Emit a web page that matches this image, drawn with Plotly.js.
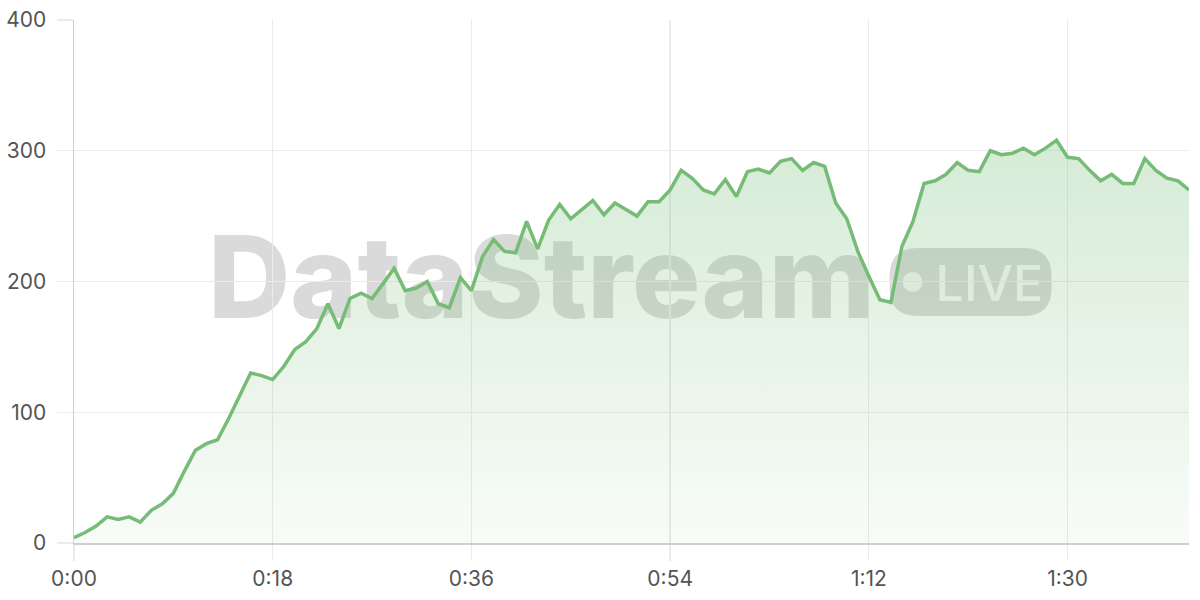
<!DOCTYPE html>
<html>
<head>
<meta charset="utf-8">
<script src="https://cdn.plot.ly/plotly-3.0.1.min.js"></script>
<style>html,body{margin:0;padding:0;background:#fff;}#chart{width:1200px;height:600px;}</style>
</head>
<body>
<div id="chart"></div>
<script>
const seconds = [0,1,2,3,4,5,6,7,8,9,10,11,12,13,14,15,16,17,18,19,20,21,22,23,24,25,26,27,28,29,30,31,32,33,34,35,36,37,38,39,40,41,42,43,44,45,46,47,48,49,50,51,52,53,54,55,56,57,58,59,60,61,62,63,64,65,66,67,68,69,70,71,72,73,74,75,76,77,78,79,80,81,82,83,84,85,86,87,88,89,90,91,92,93,94,95,96,97,98,99,100,101];
const values = [4,8,13,20,18,20,16,25,30,38,55,71,76,79,95,113,130,128,125,135,148,154,164,183,164,187,191,187,199,210,193,195,200,183,180,203,193,219,232,223,222,246,225,247,259,248,255,262,251,260,255,250,261,261,270,285,279,270,267,278,265,284,286,283,292,294,285,291,288,260,248,223,204,186,184,227,246,275,277,282,291,285,284,300,297,298,302,297,302,308,295,294,285,277,282,275,275,294,285,279,277,270];
const xTickVals = [0,18,36,54,72,90];
const xTickText = ["0:00","0:18","0:36","0:54","1:12","1:30"];
const yTickVals = [0,100,200,300,400];
const watermarkText = "DataStream";
const badgeText = "LIVE";

const L = 74, R = 10.5, T = 20, B = 57, W = 1200, H = 600;
const PW = W - L - R, PH = H - T - B;
function px(x){ return (x - L) / PW; }
function py(y){ return (H - B - y) / PH; }
function P(x, y){ return px(x) + ',' + py(y); }
function roundRect(x0, y0, x1, y1, r){
  return 'M' + P(x0+r,y0) + ' L' + P(x1-r,y0) + ' Q' + P(x1,y0) + ' ' + P(x1,y0+r) +
         ' L' + P(x1,y1-r) + ' Q' + P(x1,y1) + ' ' + P(x1-r,y1) +
         ' L' + P(x0+r,y1) + ' Q' + P(x0,y1) + ' ' + P(x0,y1-r) +
         ' L' + P(x0,y0+r) + ' Q' + P(x0,y0) + ' ' + P(x0+r,y0) + ' Z';
}

const trace = {
  x: seconds, y: values, type: 'scatter', mode: 'lines',
  line: {color: 'rgb(118,188,118)', width: 3.5},
  fill: 'tozeroy',
  fillgradient: {type: 'vertical', colorscale: [[0, 'rgba(118,188,118,0.05)'], [1, 'rgba(118,188,118,0.30)']]},
  hoverinfo: 'skip'
};

const gridC = '#ebebeb';
const layout = {
  width: W, height: H,
  margin: {l: L, r: R, t: T, b: B, pad: 0},
  paper_bgcolor: '#fff', plot_bgcolor: '#fff',
  showlegend: false,
  font: {family: 'Inter, "Open Sans", sans-serif', color: '#555', size: 21},
  xaxis: {
    range: [0, 101], tickvals: xTickVals, ticktext: xTickText,
    showgrid: true, gridcolor: gridC, gridwidth: 1.3,
    ticks: 'outside', ticklen: 16, tickcolor: gridC, tickwidth: 1.3,
    showline: true, linecolor: '#cfcfcf', linewidth: 1.5,
    zeroline: false, automargin: false, fixedrange: true,
    tickfont: {size: 21, color: '#555'}, ticklabelstandoff: 0
  },
  yaxis: {
    range: [0, 400], tickvals: yTickVals,
    showgrid: true, gridcolor: gridC, gridwidth: 1.3,
    ticks: 'outside', ticklen: 16, tickcolor: gridC, tickwidth: 1.3,
    showline: true, linecolor: '#cfcfcf', linewidth: 1.5,
    zeroline: false, automargin: false, fixedrange: true,
    tickfont: {size: 21, color: '#555'}, ticklabelstandoff: 6
  },
  shapes: [
    {type: 'rect', xref: 'paper', yref: 'paper', layer: 'below',
     x0: px(205), x1: px(885), y0: py(332), y1: py(212),
     fillcolor: 'rgba(0,0,0,0)', line: {width: 0},
     label: {text: watermarkText, textposition: 'middle left', padding: 0,
             font: {family: 'Inter, sans-serif', size: 114, weight: 800, color: 'rgba(0,0,0,0.145)'}}},
    {type: 'path', xref: 'paper', yref: 'paper', layer: 'below', path: roundRect(890, 248, 1052, 316, 28),
     fillcolor: 'rgba(0,0,0,0.15)', line: {width: 0}},
    {type: 'circle', xref: 'paper', yref: 'paper', layer: 'below', x0: px(903), x1: px(923), y0: py(292), y1: py(272),
     fillcolor: 'rgba(255,255,255,0.75)', line: {width: 0}},
    {type: 'rect', xref: 'paper', yref: 'paper', layer: 'below',
     x0: px(933), x1: px(1050), y0: py(310), y1: py(252),
     fillcolor: 'rgba(0,0,0,0)', line: {width: 0},
     label: {text: badgeText, textposition: 'middle left', padding: 0,
             font: {family: 'Inter, sans-serif', size: 50, weight: 500, color: 'rgba(255,255,255,0.8)'}}}
  ]
};

Plotly.newPlot('chart', [trace], layout, {displayModeBar: false, staticPlot: true});
</script>
</body>
</html>
